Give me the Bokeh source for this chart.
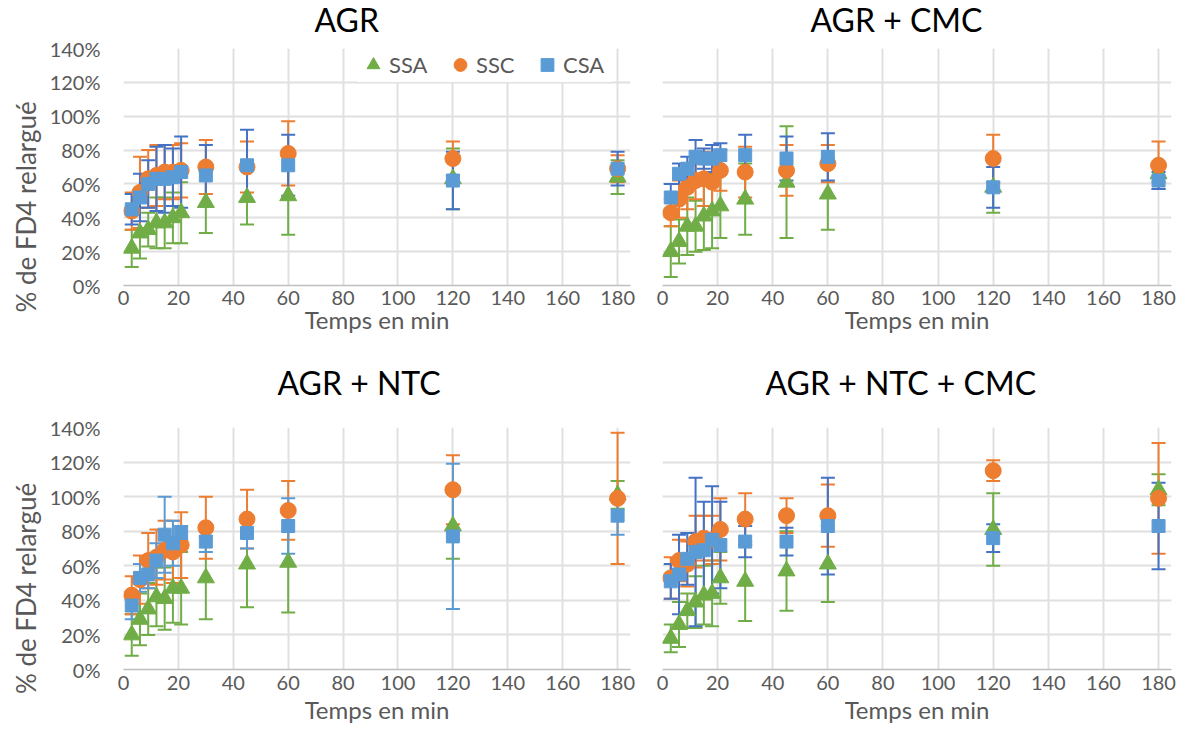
from bokeh.plotting import figure
from bokeh.models import (Whisker, ColumnDataSource, FixedTicker, PrintfTickFormatter,
                          TeeHead, Legend, LegendItem, Range1d)
from bokeh.layouts import column, row
from bokeh.embed import file_html
from bokeh.resources import INLINE

# ---------------- data ----------------
TIME = [3, 6, 9, 12, 15, 18, 21, 30, 45, 60, 120, 180]
X_TICKS = [0, 20, 40, 60, 80, 100, 120, 140, 160, 180]
Y_TICKS = [0, 20, 40, 60, 80, 100, 120, 140]
SERIES = ["SSA", "SSC", "CSA"]
TITLES = ["AGR", "AGR + CMC", "AGR + NTC", "AGR + NTC + CMC"]
X_LABEL = "Temps en min"
Y_LABEL = "% de FD4 relargué"

# AGR
agr_ssa = [22, 31, 33, 37, 37, 40, 43, 49, 52, 53, 63, 64]
agr_ssa_err = [11, 15, 10, 15, 15, 15, 18, 18, 16, 23, 18, 10]
agr_ssc = [44, 55, 63, 65, 67, 67, 68, 70, 70, 78, 75, 69]
agr_ssc_err = [11, 21, 17, 18, 16, 16, 16, 16, 15, 19, 10, 8]
agr_csa = [45, 52, 60, 63, 63, 64, 67, 65, 71, 71, 62, 69]
agr_csa_err = [9, 14, 14, 19, 20, 17, 21, 18, 21, 18, 17, 10]

# AGR + CMC
cmc_ssa = [20, 26, 35, 35, 41, 44, 47, 51, 61, 54, 58, 66]
cmc_ssa_err = [15, 13, 17, 15, 20, 22, 19, 21, 33, 21, 15, 5]
cmc_ssc = [43, 51, 58, 62, 63, 61, 68, 67, 68, 72, 75, 71]
cmc_ssc_err = [8, 11, 13, 11, 16, 14, 12, 15, 15, 11, 14, 14]
cmc_csa = [52, 66, 69, 76, 75, 75, 77, 77, 75, 76, 58, 62]
cmc_csa_err = [8, 6, 7, 10, 6, 8, 7, 12, 13, 14, 12, 5]

# AGR + NTC
ntc_ssa = [20, 29, 35, 42, 41, 47, 47, 53, 61, 62, 83, 101]
ntc_ssa_err = [12, 15, 15, 17, 18, 20, 21, 24, 25, 29, 19, 8]
ntc_ssc = [43, 52, 63, 65, 69, 68, 72, 82, 87, 92, 104, 99]
ntc_ssc_err = [11, 14, 16, 16, 17, 18, 19, 18, 17, 17, 20, 38]
ntc_csa = [37, 53, 55, 63, 78, 73, 79, 74, 79, 83, 77, 89]
ntc_csa_err = [8, 8, 8, 10, 22, 13, 4, 6, 9, 16, 42, 11]

# AGR + NTC + CMC
ntccmc_ssa = [18, 26, 34, 39, 43, 44, 53, 51, 57, 61, 81, 104]
ntccmc_ssa_err = [8, 13, 10, 15, 17, 19, 15, 23, 23, 22, 21, 9]
ntccmc_ssc = [53, 63, 61, 74, 76, 75, 81, 87, 89, 89, 115, 99]
ntccmc_ssc_err = [12, 12, 13, 15, 13, 14, 18, 15, 10, 18, 6, 32]
ntccmc_csa = [51, 55, 64, 68, 69, 75, 72, 74, 74, 83, 76, 83]
ntccmc_csa_err = [10, 23, 15, 43, 28, 31, 25, 9, 8, 28, 8, 25]

# ---------------- style ----------------
FONT = "Lato"
GREEN = "#70AD47"
ORANGE = "#ED7D31"
BLUE = "#5B9BD5"
BLUE_DARK = "#4472C4"
GRID = "#e0e0e0"
TXT = "#595959"
NBSP_PAD = "\u00a0" * 12  # shifts the rotated y label down, as in the original layout

MARKERS = {"SSA": ("triangle", GREEN, 17), "SSC": ("circle", ORANGE, 16), "CSA": ("square", BLUE, 13)}


def make_panel(title, data, width, height, bl, br, bt, bb, show_y, legend,
               title_offset, title_standoff, tick_standoff, xlab_standoff, blue_err, top_margin):
    p = figure(width=width, height=height, output_backend="svg", toolbar_location=None,
               x_range=Range1d(0, 184.7), y_range=Range1d(0, 140),
               min_border_left=bl, min_border_right=br, min_border_top=bt, min_border_bottom=bb,
               background_fill_color="white", border_fill_color="white",
               margin=(top_margin, 0, 0, 0))
    p.outline_line_color = None

    p.title.text = title
    p.title.align = "left"
    p.title.offset = title_offset
    p.title.standoff = title_standoff
    p.title.text_font = FONT
    p.title.text_font_size = "32px"
    p.title.text_font_style = "normal"
    p.title.text_color = "black"

    p.xaxis.ticker = FixedTicker(ticks=X_TICKS)
    p.yaxis.ticker = FixedTicker(ticks=Y_TICKS)
    p.yaxis.formatter = PrintfTickFormatter(format="%d%%")
    for ax in (p.xaxis, p.yaxis):
        ax.major_tick_out = 0
        ax.major_tick_in = 0
        ax.minor_tick_out = 0
        ax.minor_tick_in = 0
        ax.major_label_text_font = FONT
        ax.major_label_text_font_size = "20px"
        ax.major_label_text_color = TXT
        ax.axis_label_text_font = FONT
        ax.axis_label_text_font_style = "normal"
        ax.axis_label_text_color = TXT
    p.xaxis.axis_label_text_font_size = "24px"
    p.yaxis.axis_label_text_font_size = "26px"
    p.xaxis.axis_line_color = "#bfbfbf"
    p.xaxis.axis_line_width = 1.5
    p.xaxis.major_label_standoff = tick_standoff
    p.xaxis.axis_label = X_LABEL
    p.xaxis.axis_label_standoff = xlab_standoff
    p.yaxis.axis_line_color = None
    if show_y:
        p.yaxis.major_label_standoff = 23
        p.yaxis.axis_label = Y_LABEL + NBSP_PAD
        p.yaxis.axis_label_standoff = 5
    else:
        p.yaxis.visible = False
    p.xgrid.ticker = FixedTicker(ticks=X_TICKS)
    p.ygrid.ticker = FixedTicker(ticks=Y_TICKS)
    p.grid.grid_line_color = GRID
    p.grid.grid_line_width = 2

    renderers = {}
    for name in SERIES:
        vals, errs = data[name]
        marker, color, size = MARKERS[name]
        ecol = blue_err if name == "CSA" else color
        src = ColumnDataSource(dict(x=TIME, y=vals,
                                    lo=[v - e for v, e in zip(vals, errs)],
                                    hi=[v + e for v, e in zip(vals, errs)]))
        w = Whisker(source=src, base="x", lower="lo", upper="hi", dimension="height",
                    line_color=ecol, line_width=2, level="underlay",
                    upper_head=TeeHead(size=14, line_color=ecol, line_width=2),
                    lower_head=TeeHead(size=14, line_color=ecol, line_width=2))
        p.add_layout(w)
    for name in SERIES:
        vals, errs = data[name]
        marker, color, size = MARKERS[name]
        src = ColumnDataSource(dict(x=TIME, y=vals))
        r = p.scatter("x", "y", source=src, marker=marker, size=size,
                      fill_color=color, line_color=color)
        renderers[name] = r

    if legend:
        lg = Legend(items=[LegendItem(label=n, renderers=[renderers[n]]) for n in SERIES],
                    location=(234, 203), orientation="horizontal")
        lg.label_text_font = FONT
        lg.label_text_font_size = "22px"
        lg.label_text_color = TXT
        lg.border_line_color = None
        lg.background_fill_color = "white"
        lg.background_fill_alpha = 1
        lg.margin = 0
        lg.padding = 0
        lg.spacing = 6
        lg.label_standoff = 0
        lg.label_width = 49
        lg.label_height = 20
        lg.glyph_width = 32
        lg.glyph_height = 35
        p.add_layout(lg, "center")
    return p


d_agr = {"SSA": (agr_ssa, agr_ssa_err), "SSC": (agr_ssc, agr_ssc_err), "CSA": (agr_csa, agr_csa_err)}
d_cmc = {"SSA": (cmc_ssa, cmc_ssa_err), "SSC": (cmc_ssc, cmc_ssc_err), "CSA": (cmc_csa, cmc_csa_err)}
d_ntc = {"SSA": (ntc_ssa, ntc_ssa_err), "SSC": (ntc_ssc, ntc_ssc_err), "CSA": (ntc_csa, ntc_csa_err)}
d_ntccmc = {"SSA": (ntccmc_ssa, ntccmc_ssa_err), "SSC": (ntccmc_ssc, ntccmc_ssc_err),
            "CSA": (ntccmc_csa, ntccmc_csa_err)}

# frames: top row 46..285, bottom row 425..669 (page px); left frames 123..630, right 662..1171
p1 = make_panel(TITLES[0], d_agr, 640, 355, 123, 10, 58, 58, True, True,
                191, 19, 5, -3, BLUE_DARK, -12)
p2 = make_panel(TITLES[1], d_cmc, 543, 355, 22, 12, 58, 58, False, False,
                148, 19, 5, -3, BLUE_DARK, -12)
p3 = make_panel(TITLES[2], d_ntc, 640, 409, 123, 10, 90, 75, True, False,
                154, 51, 6, 2, BLUE, -8)
p4 = make_panel(TITLES[3], d_ntccmc, 543, 409, 22, 12, 90, 75, False, False,
                103, 51, 6, 2, BLUE_DARK, -8)

layout = column(row(p1, p2, spacing=0), row(p3, p4, spacing=0), spacing=0)
open("out.html", "w").write(file_html(layout, INLINE))
